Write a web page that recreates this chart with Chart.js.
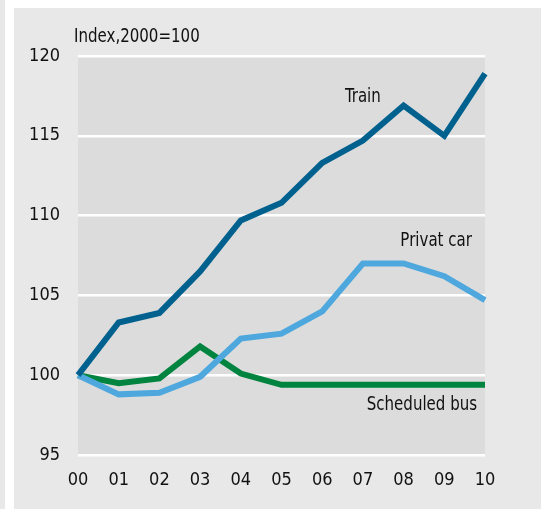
<!DOCTYPE html>
<html>
<head>
<meta charset="utf-8">
<script src="https://cdn.jsdelivr.net/npm/chart.js@4/dist/chart.umd.min.js"></script>
<style>
  body { margin: 0; background: #fff; }
  #chart { display: block; }
</style>
</head>
<body>
<canvas id="chart" width="541" height="509"></canvas>
<script>
const years = ["00", "01", "02", "03", "04", "05", "06", "07", "08", "09", "10"];
const train = [100, 103.3, 103.9, 106.5, 109.7, 110.8, 113.3, 114.7, 116.9, 115.0, 118.9];
const privatCar = [100, 98.8, 98.9, 99.9, 102.3, 102.6, 104.0, 107.0, 107.0, 106.2, 104.7];
const scheduledBus = [100, 99.5, 99.8, 101.8, 100.1, 99.4, 99.4, 99.4, 99.4, 99.4, 99.4];
const yTicks = [95, 100, 105, 110, 115, 120];

const fontFamily = '"DejaVu Sans Condensed", sans-serif';

// series labels placed in data space
const seriesLabels = [
    { text: "Train", x: 7.0, y: 117.4 },
    { text: "Privat car", x: 8.8, y: 108.4 },
    { text: "Scheduled bus", x: 8.45, y: 98.1 }
];

// draw text a bit narrower, closer to the condensed face of the original
function narrowText(ctx, text, x, y, align) {
    const squeeze = 0.88;
    ctx.save();
    ctx.translate(x, y);
    ctx.scale(squeeze, 1);
    ctx.textAlign = align;
    ctx.fillText(text, 0, 0);
    ctx.restore();
}

const backdrop = {
    id: 'backdrop',
    beforeDraw(chart) {
        const ctx = chart.ctx;
        const area = chart.chartArea;
        ctx.save();
        ctx.fillStyle = '#ffffff';
        ctx.fillRect(0, 0, chart.width, chart.height);
        ctx.fillStyle = '#e8e8e8';
        ctx.fillRect(0, 0, 5, chart.height);
        ctx.fillRect(14, 8, chart.width - 14, chart.height - 8);
        ctx.fillStyle = '#dcdcdc';
        ctx.fillRect(area.left, area.top, area.right - area.left, area.bottom - area.top);
        ctx.restore();
    },
    afterDraw(chart) {
        const ctx = chart.ctx;
        const xs = chart.scales.x;
        const ys = chart.scales.y;
        ctx.save();
        ctx.fillStyle = '#111';
        ctx.font = '19px ' + fontFamily;
        ctx.textBaseline = 'middle';
        for (let l of seriesLabels) {
            narrowText(ctx, l.text, xs.getPixelForValue(l.x), ys.getPixelForValue(l.y), 'center');
        }
        narrowText(ctx, "Index,2000=100", 74, 37, 'left');
        ctx.restore();
    }
};

new Chart(document.getElementById('chart'), {
    type: 'line',
    data: {
        labels: years,
        datasets: [
            { label: 'Train', data: train, borderColor: '#00618f' },
            { label: 'Privat car', data: privatCar, borderColor: '#4ea8de' },
            { label: 'Scheduled bus', data: scheduledBus, borderColor: '#00843f' }
        ]
    },
    options: {
        responsive: false,
        animation: false,
        layout: { padding: { left: 0, top: 56, right: 56, bottom: 0 } },
        elements: {
            line: { borderWidth: 6, tension: 0, borderJoinStyle: 'miter', borderCapStyle: 'butt' },
            point: { radius: 0 }
        },
        plugins: {
            legend: { display: false },
            tooltip: { enabled: false }
        },
        scales: {
            x: {
                offset: false,
                grid: { display: false, drawTicks: false },
                border: { display: false },
                ticks: { color: '#111', font: { family: fontFamily, size: 18 }, padding: 15, maxRotation: 0, autoSkip: false },
                afterFit(scale) { scale.height = 54; }
            },
            y: {
                min: 95,
                max: 120,
                afterBuildTicks(scale) { scale.ticks = yTicks.map(v => ({ value: v })); },
                grid: { color: '#ffffff', lineWidth: 2.5, drawTicks: false },
                border: { display: false },
                ticks: { color: '#111', font: { family: fontFamily, size: 18 }, padding: 18 },
                afterFit(scale) { scale.width = 78; }
            }
        }
    },
    plugins: [backdrop]
});
</script>
</body>
</html>
